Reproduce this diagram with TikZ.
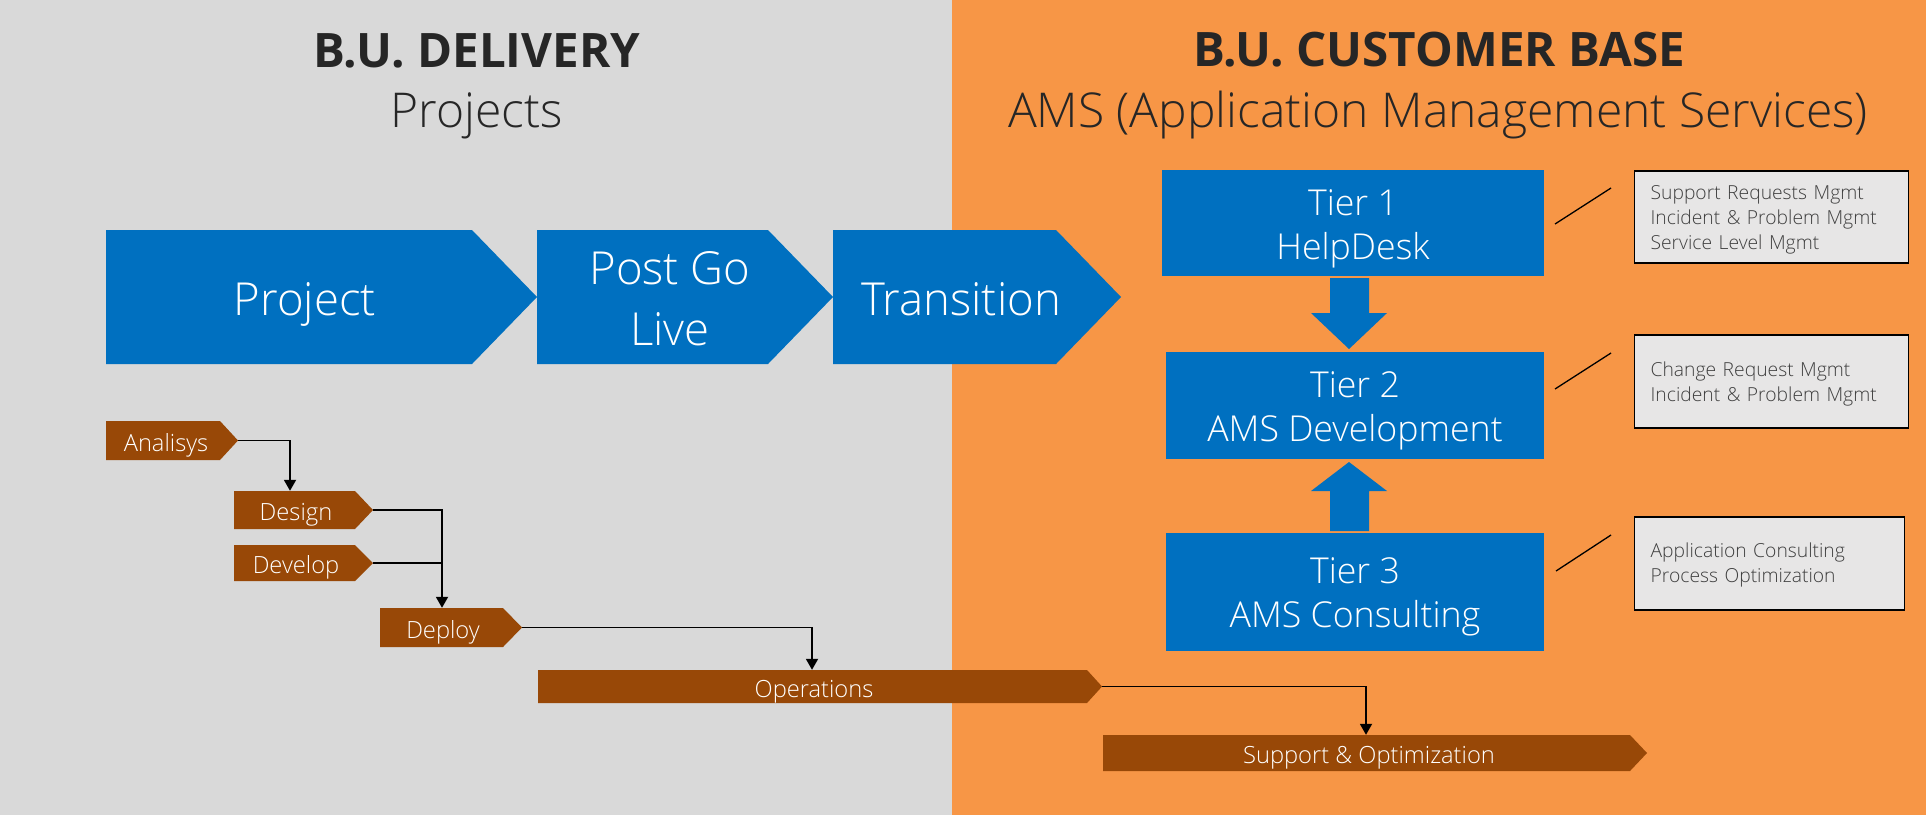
\documentclass[tikz,border=0pt]{standalone}
\usepackage{fontspec}
\usetikzlibrary{arrows.meta,calc}
\IfFontExistsTF{Open Sans Light}{\setmainfont{Open Sans Light}}{\setmainfont{Open Sans}}
\newfontfamily\hfont{Open Sans}
\definecolor{bggray}{HTML}{D9D9D9}
\definecolor{bgorange}{HTML}{F79646}
\definecolor{tblue}{HTML}{0070C0}
\definecolor{tbrown}{HTML}{984807}
\definecolor{boxgray}{HTML}{E7E6E6}
\definecolor{dtext}{HTML}{262626}
\definecolor{btext}{HTML}{3F3F3F}
\newcommand\chevshape[6]{\fill[#1] (#2,#3) -- (#4,#3) -- (#5,{(#3+#6)/2}) -- (#4,#6) -- (#2,#6) -- cycle;}
\newcommand\upstrut[1]{\rule{0pt}{#1}}
\begin{document}
\begin{tikzpicture}[x=1pt,y=-1pt,
  bigtext/.style={text=white, inner sep=0, align=center, font=\fontsize{45.5}{61}\selectfont},
  bigone/.style={bigtext, text height=32.5pt, text depth=0pt},
  smalltext/.style={text=white, inner sep=0, text height=21pt, text depth=0pt, font=\fontsize{23.7}{26}\selectfont},
  tierbox/.style={fill=tblue, text=white, inner sep=0, align=center, font=\fontsize{35.7}{44}\selectfont},
  infobox/.style={draw=black, line width=1.2pt, fill=boxgray, text=btext, align=left, inner xsep=16pt, inner ysep=0pt, anchor=west, font=\fontsize{19.3}{25}\selectfont},
  titletext/.style={text=dtext, anchor=base, inner sep=0, font=\hfont\bfseries\fontsize{47.5}{52}\selectfont},
  subtext/.style={text=dtext, anchor=base, inner sep=0, font=\fontsize{48}{52}\selectfont},
  conn/.style={draw=black, line width=1.8pt, -{Triangle[length=11pt,width=12pt]}},
  callout/.style={draw=black, line width=1.3pt}]
\useasboundingbox (0,0) rectangle (1926,815);
\fill[bggray] (0,0) rectangle (952,815);
\fill[bgorange] (952,0) rectangle (1926,815);

% titles
\node[titletext] (t1) at (477,67) {B.U. DELIVERY};
\node[subtext] (s1) at (477,127) {Projects};
\node[titletext] (t2) at (1439,66) {B.U. CUSTOMER BASE};
\node[subtext] (s2) at (1438,127) {AMS (Application Management Services)};

% big chevrons
\chevshape{tblue}{106}{230}{472}{537}{364}
\chevshape{tblue}{537}{230}{768}{833}{364}
\chevshape{tblue}{833}{230}{1056}{1121}{364}
\node[bigone] (proj) at (305,299) {Project};
\node[bigtext] (pgl) at (670,299) {Post Go\\Live};
\node[bigone] (trans) at (961,299) {Transition};

% small chevrons
\chevshape{tbrown}{106}{421}{220}{238}{460}
\chevshape{tbrown}{234}{491}{355}{373}{529}
\chevshape{tbrown}{234}{545}{355}{373}{581}
\chevshape{tbrown}{380}{608}{503}{522}{647}
\chevshape{tbrown}{538}{670}{1087}{1102}{703}
\chevshape{tbrown}{1103}{735}{1630}{1647}{771}
\node[smalltext, minimum width=114, minimum height=39] (ana) at (166,440.5) {Analisys};
\node[smalltext, minimum width=121, minimum height=38] (des) at (296,510) {Design};
\node[smalltext, minimum width=121, minimum height=36] (dev) at (296,563) {Develop};
\node[smalltext, minimum width=123, minimum height=39] (dep) at (443,627.5) {Deploy};
\node[smalltext, minimum width=549, minimum height=33] (ops) at (814,686.5) {Operations};
\node[smalltext, minimum width=527, minimum height=36] (supp) at (1369,753) {Support \& Optimization};
\coordinate (anatip) at (238,440.5);
\coordinate (destip) at (373,510);
\coordinate (devtip) at (373,563);
\coordinate (deptip) at (522,627.5);
\coordinate (opstip) at (1102,686.5);
\coordinate (desin) at ([xshift=-6pt]des.north);
\coordinate (depin) at ([xshift=-1pt]dep.north);
\coordinate (opsin) at ([xshift=-2pt]ops.north);
\coordinate (suppin) at ([xshift=-3pt]supp.north);

% connectors
\draw[conn] (anatip) -| (desin);
\draw[conn] (destip) -| (depin);
\draw[line width=1.8pt] (devtip) -- (devtip -| depin);
\draw[conn] (deptip) -| (opsin);
\draw[conn] (opstip) -| (suppin);

% tiers
\node[tierbox, minimum width=382, minimum height=106] (tier1) at (1353,223) {\upstrut{36.6pt}Tier 1\\HelpDesk};
\node[tierbox, minimum width=378, minimum height=107] (tier2) at (1355,405.5) {\upstrut{35.6pt}Tier 2\\AMS Development};
\node[tierbox, minimum width=378, minimum height=118] (tier3) at (1355,592) {\upstrut{34.6pt}Tier 3\\AMS Consulting};
\fill[tblue] (1330,278) -- (1369,278) -- (1369,313) -- (1387,313) -- (1349,349) -- (1311,313) -- (1330,313) -- cycle;
\fill[tblue] (1330,531) -- (1369,531) -- (1369,491) -- (1387,491) -- (1349,462) -- (1311,491) -- (1330,491) -- cycle;

% callouts
\draw[callout] (1555,224) -- (1611,188);
\draw[callout] (1555,389) -- (1611,353);
\draw[callout] (1556,571) -- (1611,535);
\node[infobox, text width=242, minimum height=92] (b1) at (1634,217) {\upstrut{20.6pt}Support Requests Mgmt\\Incident \& Problem Mgmt\\Service Level Mgmt};
\node[infobox, text width=242, minimum height=93] (b2) at (1634,381.5) {\upstrut{20.6pt}Change Request Mgmt\\Incident \& Problem Mgmt};
\node[infobox, text width=238, minimum height=93] (b3) at (1634,563.5) {\upstrut{18.6pt}Application Consulting\\Process Optimization};
\end{tikzpicture}
\end{document}
